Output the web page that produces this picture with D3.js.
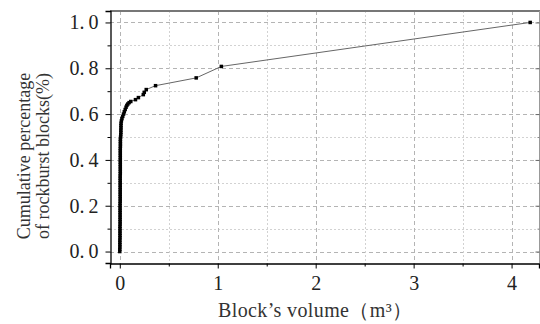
<!DOCTYPE html>
<html><head><meta charset="utf-8">
<script src="https://cdn.jsdelivr.net/npm/d3@7"></script>
<style>body{margin:0;background:#fff}svg{display:block}</style>
</head><body>
<svg id="c" width="540" height="324"></svg>
<script>
// Block volumes (m^3) and cumulative fraction of rockburst blocks
const volumes = [
 0.000,0.000,0.001,0.001,0.001,0.001,0.002,0.002,0.002,0.002,
 0.002,0.002,0.003,0.003,0.003,0.003,0.003,0.003,0.003,0.003,
 0.003,0.003,0.004,0.004,0.004,0.004,0.004,0.004,0.004,0.004,
 0.004,0.004,0.004,0.004,0.005,0.005,0.005,0.005,0.005,0.005,
 0.005,0.005,0.005,0.005,0.005,0.005,0.006,0.006,0.006,0.006,
 0.008,0.010,0.011,0.011,0.012,0.012,0.013,
 0.016,0.022,0.030,0.038,0.046,0.055,0.064,0.072,0.082,0.095,
 0.112,0.160,0.190,0.240,0.250,0.270,0.365,0.780,1.037,4.190];
const cumulative = [
 0.00,0.01,0.02,0.03,0.04,0.05,0.06,0.07,0.08,0.09,
 0.10,0.11,0.12,0.13,0.14,0.15,0.16,0.17,0.18,0.19,
 0.20,0.21,0.22,0.23,0.24,0.25,0.26,0.27,0.28,0.29,
 0.30,0.31,0.32,0.33,0.34,0.35,0.36,0.37,0.38,0.39,
 0.40,0.41,0.42,0.43,0.44,0.45,0.46,0.47,0.48,0.49,
 0.50,0.51,0.52,0.53,0.54,0.55,0.56,
 0.570,0.580,0.590,0.600,0.610,0.620,0.630,0.638,0.644,0.650,
 0.655,0.663,0.672,0.685,0.695,0.707,0.724,0.758,0.808,1.000];
const xTicks = [0,1,2,3,4];
const yTicks = [0.0,0.2,0.4,0.6,0.8,1.0];
const xMinor = [0.5,1.5,2.5,3.5];
const yMinor = [0.1,0.3,0.5,0.7,0.9];
const xTitle = "Block\u2019s  volume\uFF08m\u00B3\uFF09";
const yTitle = ["Cumulative percentage","of rockburst blocks(%)"];

const data = volumes.map((v,i)=>({x:v,y:cumulative[i]}));
const L=110,R=539,T=11,B=263;
const x=d3.scaleLinear().domain([-0.1,4.28]).range([L,R]);
const y=d3.scaleLinear().domain([-0.05,1.05]).range([B,T]);
const svg=d3.select("#c");
const font="'Liberation Serif','DejaVu Serif',serif";

// grid
const g=svg.append("g");
g.selectAll(".gy").data(yTicks).join("line").attr("x1",L).attr("x2",R)
 .attr("y1",d=>Math.round(y(d))+0.5).attr("y2",d=>Math.round(y(d))+0.5)
 .attr("stroke","#b4b4b4").attr("stroke-dasharray","4,3");
g.selectAll(".gym").data(yMinor).join("line").attr("x1",L).attr("x2",R)
 .attr("y1",d=>Math.round(y(d))+0.5).attr("y2",d=>Math.round(y(d))+0.5)
 .attr("stroke","#d2d2d2").attr("stroke-dasharray","2,2");
g.selectAll(".gx").data(xTicks).join("line").attr("y1",T).attr("y2",B)
 .attr("x1",d=>Math.round(x(d))+0.5).attr("x2",d=>Math.round(x(d))+0.5)
 .attr("stroke","#b4b4b4").attr("stroke-dasharray","4,3");
g.selectAll(".gxm").data(xMinor).join("line").attr("y1",T).attr("y2",B)
 .attr("x1",d=>Math.round(x(d))+0.5).attr("x2",d=>Math.round(x(d))+0.5)
 .attr("stroke","#d2d2d2").attr("stroke-dasharray","2,2");

// line + markers
svg.append("path").datum(data).attr("fill","none").attr("stroke","#666").attr("stroke-width",1)
 .attr("d",d3.line().x(d=>x(d.x)).y(d=>y(d.y)));
svg.selectAll(".m").data(data).join("rect")
 .attr("x",d=>x(d.x)-1.75).attr("y",d=>y(d.y)-1.75).attr("width",3.5).attr("height",3.5).attr("fill","#000");

// frame
svg.append("line").attr("x1",L).attr("x2",R+1).attr("y1",T).attr("y2",T).attr("stroke","#777").attr("stroke-width",2);
svg.append("line").attr("x1",R+0.5).attr("x2",R+0.5).attr("y1",T).attr("y2",B).attr("stroke","#999").attr("stroke-width",1);

// axes
svg.append("g").attr("transform",`translate(0,${B+0.5})`)
 .call(d3.axisBottom(x).tickValues(xTicks).tickSize(5).tickPadding(7).tickFormat(d3.format("d")));
svg.append("g").attr("transform",`translate(0,${B+0.5})`)
 .call(d3.axisBottom(x).tickValues(xMinor).tickSize(3).tickFormat("")).select(".domain").remove();
svg.append("g").attr("transform",`translate(${L+0.5},0)`)
 .call(d3.axisLeft(y).tickValues(yTicks).tickSize(5).tickPadding(7).tickFormat(d=>d3.format(".1f")(d).replace(".",".\u2009")));
svg.append("g").attr("transform",`translate(${L+0.5},0)`)
 .call(d3.axisLeft(y).tickValues(yMinor).tickSize(3).tickFormat("")).select(".domain").remove();
const ar=svg.append("g").attr("transform",`translate(${R+0.5},0)`)
 .call(d3.axisLeft(y).tickValues(yTicks).tickSize(4).tickFormat(""));
ar.select(".domain").remove(); ar.selectAll("line").attr("stroke","#666");
const ar2=svg.append("g").attr("transform",`translate(${R+0.5},0)`)
 .call(d3.axisLeft(y).tickValues(yMinor).tickSize(2).tickFormat(""));
ar2.select(".domain").remove(); ar2.selectAll("line").attr("stroke","#888");
svg.selectAll(".tick text").attr("font-family",font).attr("font-size",20).attr("fill","#222");
svg.selectAll(".domain").attr("stroke","#000").attr("stroke-width",1.3);

// titles
svg.append("text").attr("x",315).attr("y",317).attr("text-anchor","middle")
 .attr("font-family",font).attr("font-size",20).attr("fill","#333")
 .attr("textLength",194).attr("lengthAdjust","spacing").text(xTitle);
yTitle.forEach((t,i)=>{
 svg.append("text").attr("transform",`translate(${30+i*19},${156}) rotate(-90)`)
  .attr("text-anchor","middle").attr("font-family",font).attr("font-size",18).attr("fill","#333").text(t);
});
</script>
</body></html>
